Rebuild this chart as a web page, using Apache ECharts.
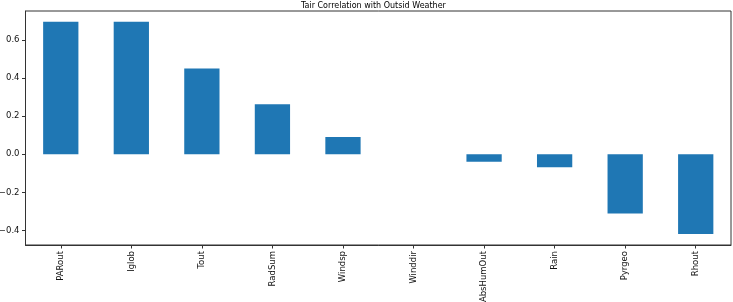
<!DOCTYPE html>
<html>
<head>
<meta charset="utf-8">
<script src="https://cdn.jsdelivr.net/npm/echarts@6/dist/echarts.min.js"></script>
<style>
  html, body { margin: 0; padding: 0; background: #fff; }
  #chart { width: 733px; height: 302px; }
</style>
</head>
<body>
<div id="chart"></div>
<script>
var categories = ['PARout', 'Iglob', 'Tout', 'RadSum', 'Windsp', 'Winddir', 'AbsHumOut', 'Rain', 'Pyrgeo', 'Rhout'];
var corrValues = [0.696, 0.696, 0.451, 0.263, 0.091, 0.0, -0.039, -0.068, -0.311, -0.419];
var yTicks = [-0.4, -0.2, 0.0, 0.2, 0.4, 0.6];

var fontFamily = 'DejaVu Sans';
var chart = echarts.init(document.getElementById('chart'));

chart.setOption({
    animation: false,
    backgroundColor: '#fff',
    title: {
        text: 'Tair Correlation with Outsid Weather',
        left: 301,
        top: 2,
        padding: 0,
        textStyle: { fontFamily: fontFamily, fontSize: 8, fontWeight: 'normal', color: '#000' }
    },
    grid: {
        left: 25.5,
        right: 2,
        top: 11,
        bottom: 57,
        outerBoundsMode: 'none',
        containLabel: false,
        show: true,
        borderColor: '#333',
        borderWidth: 1
    },
    xAxis: {
        type: 'category',
        data: categories,
        axisLine: { show: true, onZero: false, lineStyle: { color: '#333', width: 1 } },
        axisTick: { show: true, alignWithLabel: true, length: 3.5, lineStyle: { color: '#333' } },
        axisLabel: {
            rotate: 90,
            margin: 6,
            fontFamily: fontFamily,
            fontSize: 8.5,
            color: '#111',
            interval: 0
        },
        splitLine: { show: false }
    },
    yAxis: {
        type: 'value',
        min: -0.477,
        max: 0.753,
        axisLine: { show: true, lineStyle: { color: '#333', width: 1 } },
        axisTick: { show: true, length: 3.5, customValues: yTicks, lineStyle: { color: '#333' } },
        axisLabel: {
            customValues: yTicks,
            margin: 6,
            fontFamily: fontFamily,
            fontSize: 8.5,
            color: '#111',
            formatter: function (v) { return v.toFixed(1).replace('-', '\u2212'); }
        },
        splitLine: { show: false }
    },
    series: [{
        type: 'bar',
        data: corrValues,
        barWidth: '50%',
        itemStyle: { color: '#1f77b4' }
    }]
});
</script>
</body>
</html>
